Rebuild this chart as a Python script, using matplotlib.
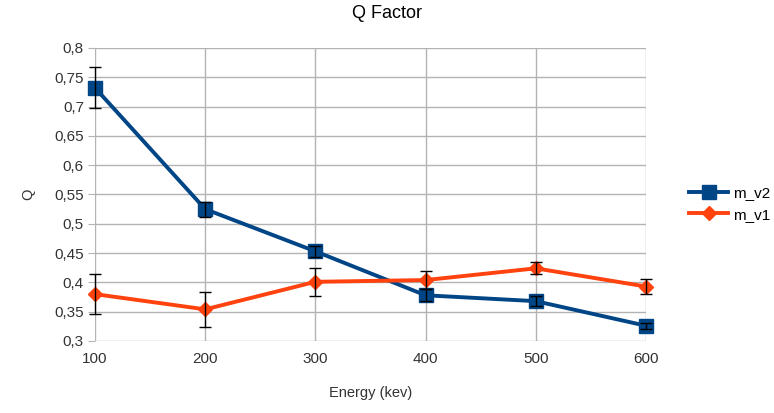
import matplotlib
matplotlib.use("Agg")
import matplotlib.pyplot as plt
from matplotlib.ticker import FuncFormatter, MultipleLocator

plt.rcParams['font.family'] = ['Liberation Sans', 'DejaVu Sans']

energy = [100, 200, 300, 400, 500, 600]
q_v2 = [0.732, 0.525, 0.453, 0.378, 0.368, 0.326]
err_v2 = [0.035, 0.013, 0.009, 0.010, 0.009, 0.005]
q_v1 = [0.380, 0.354, 0.401, 0.404, 0.424, 0.393]
err_v1 = [0.034, 0.030, 0.024, 0.016, 0.010, 0.012]

blue = '#004586'
orange = '#ff420e'

fig = plt.figure(figsize=(7.74, 4.13), dpi=100)
ax = fig.add_axes([95 / 774, 1 - 341 / 413, (646 - 95) / 774, (341 - 48) / 413])

ax.plot(energy, q_v2, color=blue, lw=2.8, marker='s', ms=9.5, label='m_v2',
        zorder=3, clip_on=False)
ax.plot(energy, q_v1, color=orange, lw=2.8, marker='D', ms=7, label='m_v1',
        zorder=3, clip_on=False)
for q, e in [(q_v2, err_v2), (q_v1, err_v1)]:
    eb = ax.errorbar(energy, q, yerr=e, fmt='none', ecolor='black', elinewidth=1,
                     capsize=4, capthick=1, zorder=4)
    for a in eb.lines[1] + eb.lines[2]:
        a.set_clip_on(False)

ax.set_xlim(100, 600)
ax.set_ylim(0.3, 0.8)
ax.xaxis.set_major_locator(MultipleLocator(100))
ax.yaxis.set_major_locator(MultipleLocator(0.05))
ax.yaxis.set_major_formatter(FuncFormatter(lambda v, p: f"{v:.2f}".rstrip('0').replace('.', ',')))
ax.grid(True, color='#b3b3b3', lw=1)
for s in ax.spines.values():
    s.set_visible(False)
ax.tick_params(length=0, labelsize=11, colors='#333333', pad=8)
ax.tick_params(axis='y', length=5, color='#b3b3b3', direction='out', pad=3)
ax.set_axisbelow(True)

ax.set_xlabel('Energy (kev)', fontsize=10.5, labelpad=14, color='#333333')
ax.set_ylabel('Q', fontsize=10.5, labelpad=14, color='#333333')
fig.text(0.5, 1 - 14 / 413, 'Q Factor', ha='center', va='center', fontsize=13)

fig.legend(loc='center left', bbox_to_anchor=(675 / 774, 1 - 204 / 413), frameon=False,
           fontsize=11, handlelength=2.6, labelspacing=0.5, handletextpad=0.3)

fig.savefig('out.png', dpi=100)
